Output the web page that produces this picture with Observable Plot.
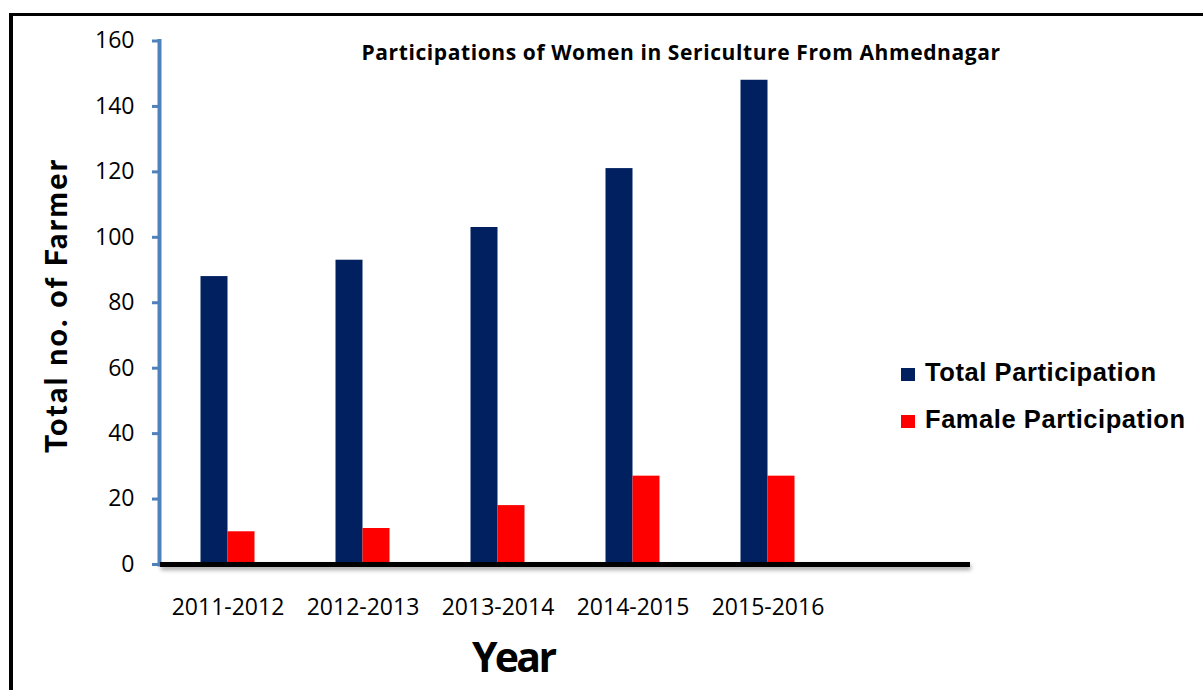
<!DOCTYPE html>
<html>
<head>
<meta charset="utf-8">
<script src="https://cdn.jsdelivr.net/npm/d3@7"></script>
<script src="https://cdn.jsdelivr.net/npm/@observablehq/plot@0.6"></script>
<style>
  html, body { margin: 0; padding: 0; background: #fff; }
  #wrap { position: relative; width: 1203px; height: 690px; overflow: hidden; background: #fff; }
  #wrap > svg { position: absolute; left: 0; top: 0; }
  #border { position: absolute; left: 9px; top: 13px; width: 1300px; height: 800px;
            border-top: 3px solid #000; border-left: 4px solid #000; box-sizing: border-box; }
  g[aria-label="rule"] { filter: drop-shadow(1px 3px 2px rgba(0,0,0,0.35)); }
  g[aria-label="frame"] { filter: drop-shadow(2px 1px 1.5px rgba(0,0,0,0.3)); }
  #overlay { position: absolute; left: 0; top: 0; pointer-events: none; }
</style>
</head>
<body>
<div id="wrap">
  <div id="border"></div>
</div>
<script>
// ---- data ----
const years = ["2011-2012", "2012-2013", "2013-2014", "2014-2015", "2015-2016"];
const totalParticipation = [88, 93, 103, 121, 148];
const femaleParticipation = [10, 11, 18, 27, 27];
const seriesNames = ["Total Participation", "Famale Participation"];
const seriesColors = ["#002060", "#FF0000"];
const yTicks = [0, 20, 40, 60, 80, 100, 120, 140, 160];
const titleText = "Participations of Women in Sericulture From Ahmednagar";
const yLabelText = "Total no. of Farmer";
const xLabelText = "Year";

const rows = [];
years.forEach((yr, i) => {
  rows.push({year: yr, series: seriesNames[0], value: totalParticipation[i]});
  rows.push({year: yr, series: seriesNames[1], value: femaleParticipation[i]});
});

const chart = Plot.plot({
  width: 1203,
  height: 690,
  marginLeft: 160,
  marginRight: 233,
  marginTop: 40.5,
  marginBottom: 126,
  style: {fontFamily: "'Open Sans', sans-serif", fontSize: "23px", color: "#000", background: "transparent", overflow: "visible"},
  x: {domain: [...years, ""], padding: 0},
  y: {domain: [0, 160]},
  color: {domain: seriesNames, range: seriesColors},
  marks: [
    Plot.barY(rows.filter(d => d.series === seriesNames[0]), {x: "year", y: "value", fill: "series", insetLeft: 40.5, insetRight: 67.5}),
    Plot.barY(rows.filter(d => d.series === seriesNames[1]), {x: "year", y: "value", fill: "series", insetLeft: 67.5, insetRight: 40.5}),
    Plot.frame({anchor: "left", stroke: "#4F81BD", strokeWidth: 4, dx: -1}),
    Plot.axisY({ticks: yTicks, tickSize: 8, tickFormat: () => "", stroke: "#4F81BD", strokeWidth: 3, label: null}),
    Plot.axisY({ticks: yTicks, tickSize: 0, tickPadding: 26, label: null}),
    Plot.ruleY([0], {stroke: "#000", strokeWidth: 5}),
    Plot.axisX({tickSize: 0, tickPadding: 34, label: null})
  ]
});
document.getElementById("wrap").appendChild(chart);

// ---- annotations: title, axis titles, legend ----
const ov = d3.select("#wrap").append("svg").attr("id", "overlay")
  .attr("width", 1203).attr("height", 690);

ov.append("text").text(titleText)
  .attr("x", 361.5).attr("y", 59.5)
  .attr("textLength", 638.5).attr("lengthAdjust", "spacing")
  .style("font-family", "'Open Sans', sans-serif").style("font-weight", 700).style("font-size", "21px");

ov.append("text").text(yLabelText)
  .attr("transform", "translate(67,453) rotate(-90)")
  .attr("textLength", 293).attr("lengthAdjust", "spacing")
  .style("font-family", "Lato, sans-serif").style("font-weight", 900).style("font-size", "30px");

ov.append("text").text(xLabelText)
  .attr("x", 472).attr("y", 672)
  .attr("textLength", 85).attr("lengthAdjust", "spacing")
  .style("font-family", "'Open Sans', sans-serif").style("font-weight", 700).style("font-size", "41px");

const legendWidths = [231, 260];
seriesNames.forEach((name, i) => {
  const baseY = 381 + i * 47;
  ov.append("rect").attr("x", 901).attr("y", baseY - 13).attr("width", 14).attr("height", 13)
    .attr("fill", seriesColors[i]);
  ov.append("text").text(name)
    .attr("x", 925).attr("y", baseY)
    .attr("textLength", legendWidths[i]).attr("lengthAdjust", "spacing")
    .style("font-family", "'Liberation Sans', Arial, sans-serif").style("font-weight", 700).style("font-size", "25.5px");
});
</script>
</body>
</html>
